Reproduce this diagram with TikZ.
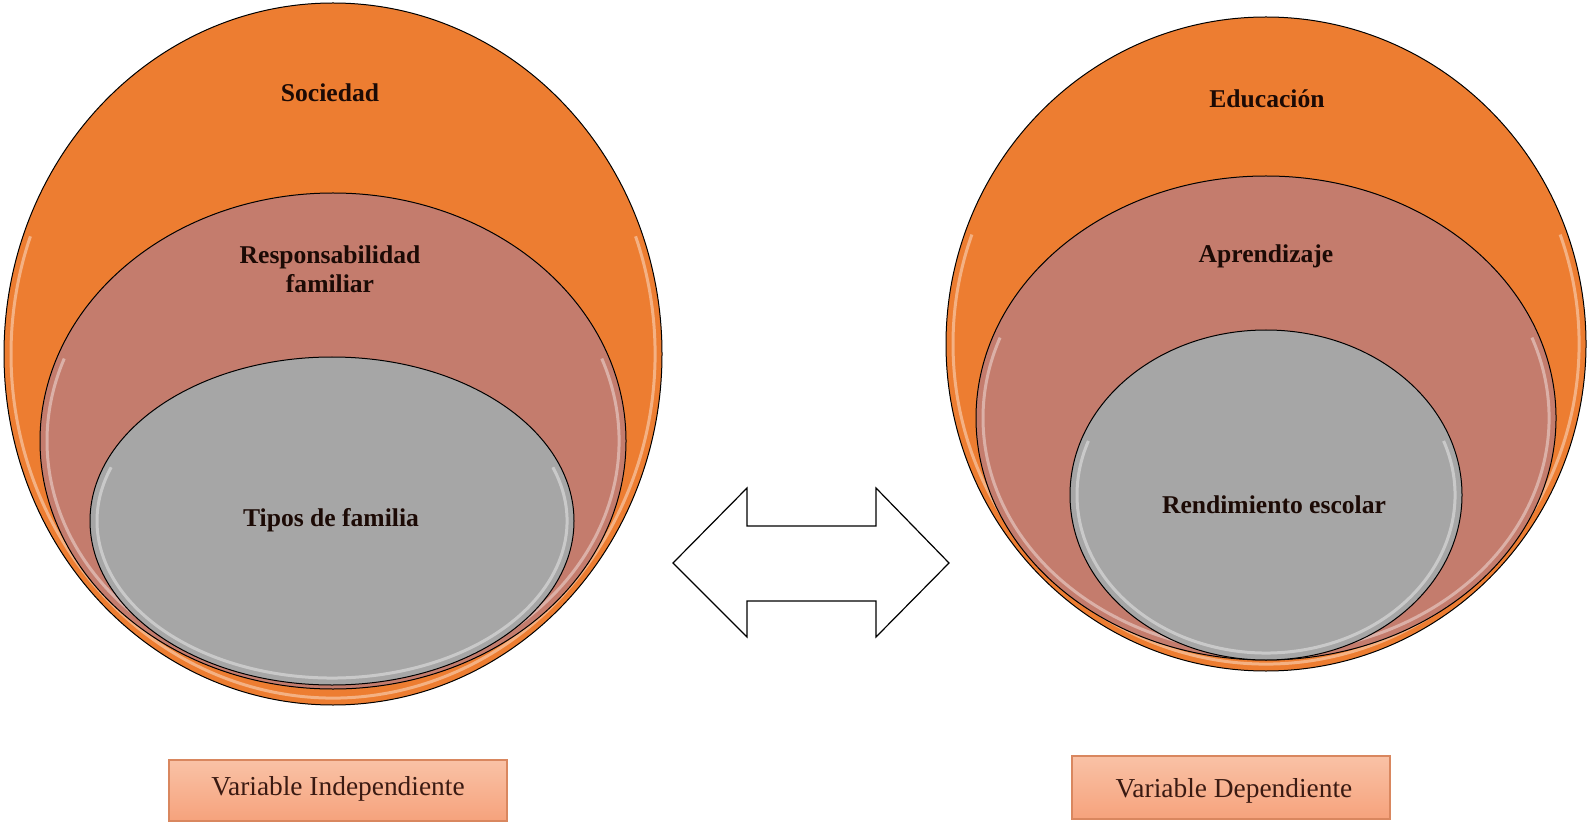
\documentclass[tikz,border=0pt]{standalone}
\usepackage{fontspec}
\setmainfont{Liberation Serif}
\usepackage{xcolor}
\usetikzlibrary{positioning}

\definecolor{ringorange}{HTML}{ED7D31}
\definecolor{ringrose}{HTML}{C47C6D}
\definecolor{ringgrey}{HTML}{A6A6A6}
\definecolor{wordink}{HTML}{1C0A05}
\definecolor{labelink}{HTML}{3A1A12}
\definecolor{boxtop}{HTML}{F9C2A6}
\definecolor{boxbottom}{HTML}{F6A27C}
\definecolor{boxedge}{HTML}{D9875F}

\begin{document}
\begin{tikzpicture}[x=0.5pt,y=-0.5pt,
  ring/.style={draw=black,line width=0.5pt},
  gloss/.style={draw=white,opacity=0.4,line width=1.5pt},
  bigword/.style={font=\fontsize{12.8}{14.5}\selectfont\bfseries,text=wordink,align=center,inner sep=0pt},
  varbox/.style={draw=boxedge,line width=0.6pt,top color=boxtop,bottom color=boxbottom,inner sep=0pt},
  varword/.style={font=\fontsize{13.7}{16}\selectfont,text=labelink,anchor=base,inner sep=0pt}]
\useasboundingbox (0,0) rectangle (1589,823);

% left group: sociedad
\coordinate (sociedad) at (333,354);
\coordinate (responsab) at (333,441);
\coordinate (tipos) at (332,521);
\filldraw[ring,fill=ringorange] (sociedad) ellipse [x radius=329, y radius=351];
\draw[gloss] (sociedad) ++(-20:322 and 344) arc[start angle=-20, end angle=200, x radius=322, y radius=344];
\filldraw[ring,fill=ringrose] (responsab) ellipse [x radius=293, y radius=248];
\draw[gloss] (responsab) ++(-20:286 and 241) arc[start angle=-20, end angle=200, x radius=286, y radius=241];
\filldraw[ring,fill=ringgrey] (tipos) ellipse [x radius=242, y radius=164];
\draw[gloss] (tipos) ++(-20:235 and 157) arc[start angle=-20, end angle=200, x radius=235, y radius=157];
\node[bigword] (sociedadtxt) at (330,93) {Sociedad};
\node[bigword] (responsabtxt) at (330,269) {Responsabilidad\\familiar};
\node[bigword] (tipostxt) at (331,520) {Tipos de familia};

% right group: educacion
\coordinate (educacion) at (1266,344);
\coordinate (aprendiz) at (1266,418);
\coordinate (rendim) at (1266,495);
\filldraw[ring,fill=ringorange] (educacion) ellipse [x radius=320, y radius=327];
\draw[gloss] (educacion) ++(-20:313 and 320) arc[start angle=-20, end angle=200, x radius=313, y radius=320];
\filldraw[ring,fill=ringrose] (aprendiz) ellipse [x radius=290, y radius=242];
\draw[gloss] (aprendiz) ++(-20:283 and 235) arc[start angle=-20, end angle=200, x radius=283, y radius=235];
\filldraw[ring,fill=ringgrey] (rendim) ellipse [x radius=196, y radius=165];
\draw[gloss] (rendim) ++(-20:189 and 158) arc[start angle=-20, end angle=200, x radius=189, y radius=158];
\node[bigword] (educaciontxt) at (1267,99) {Educación};
\node[bigword] (aprendiztxt) at (1266,256) {Aprendizaje};
\node[bigword] (rendimtxt) at (1274,505) {Rendimiento escolar};

% double arrow between the groups
\filldraw[draw=black,fill=white,line width=0.6pt] (673,563) -- (747,488) -- (747,526) -- (876,526) -- (876,488) -- (949,563)
  -- (876,637) -- (876,601) -- (747,601) -- (747,637) -- cycle;

% variable boxes
\node[varbox,minimum width=169pt,minimum height=30.5pt] (indepbox) at (338,790.5) {};
\node[varword] (indeptxt) at (338,795) {Variable Independiente};
\node[varbox,minimum width=159pt,minimum height=31.5pt] (depbox) at (1231,787.5) {};
\node[varword] (deptxt) at (1234,797) {Variable Dependiente};
\end{tikzpicture}
\end{document}
